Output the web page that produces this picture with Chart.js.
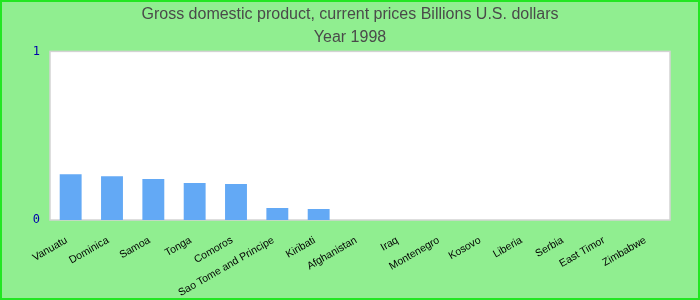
<!DOCTYPE html>
<html>
<head>
<meta charset="utf-8">
<script src="https://cdn.jsdelivr.net/npm/chart.js@4"></script>
<style>
  html, body { margin: 0; padding: 0; background: #90ee90; }
  #wrap { width: 696px; height: 296px; border: 2px solid #22e622; background: #90ee90; }
</style>
</head>
<body>
<div id="wrap"><canvas id="chart" width="696" height="296"></canvas></div>
<script>
// datos del gráfico
const titleLines = ['Gross domestic product, current prices Billions U.S. dollars', 'Year 1998'];
const countries = ['Vanuatu', 'Dominica', 'Samoa', 'Tonga', 'Comoros', 'Sao Tome and Principe', 'Kiribati',
  'Afghanistan', 'Iraq', 'Montenegro', 'Kosovo', 'Liberia', 'Serbia', 'East Timor', 'Zimbabwe'];
const gdpValues = [0.272, 0.260, 0.243, 0.219, 0.213, 0.071, 0.065, 0, 0, 0, 0, 0, 0, 0, 0];
const yTicks = [0, 1];

// fondo blanco del área de trazado
const plotBg = {
  id: 'plotBg',
  beforeDraw(chart) {
    const { ctx, chartArea: a } = chart;
    ctx.save();
    ctx.fillStyle = '#ffffff';
    ctx.fillRect(a.left, a.top, a.right - a.left, a.bottom - a.top);
    ctx.strokeStyle = '#d3d3d3';
    ctx.lineWidth = 1.5;
    ctx.strokeRect(a.left, a.top, a.right - a.left, a.bottom - a.top);
    ctx.restore();
  }
};

new Chart(document.getElementById('chart'), {
  type: 'bar',
  data: {
    labels: countries,
    datasets: [{
      data: gdpValues,
      backgroundColor: '#63a9f5',
      barPercentage: 0.53,
      categoryPercentage: 1
    }]
  },
  options: {
    responsive: false,
    animation: false,
    layout: { padding: 0 },
    plugins: {
      legend: { display: false },
      tooltip: { enabled: false },
      title: {
        display: true,
        text: titleLines,
        color: '#4a4a4a',
        font: { family: 'Liberation Sans', size: 16, weight: 'normal', lineHeight: 1.45 },
        padding: { top: 1, bottom: 2 }
      }
    },
    scales: {
      x: {
        grid: { display: false },
        border: { display: false },
        ticks: {
          autoSkip: false,
          minRotation: 30,
          maxRotation: 30,
          color: '#000000',
          padding: 6,
          labelOffset: -4,
          font: { family: 'Liberation Sans', size: 10.5 }
        },
        afterFit(scale) { scale.height = 78; }
      },
      y: {
        min: 0,
        max: 1,
        afterBuildTicks(scale) { scale.ticks = yTicks.map(v => ({ value: v })); },
        grid: { display: false, drawTicks: false },
        border: { display: false },
        ticks: {
          color: '#0000aa',
          padding: 10,
          font: { family: 'DejaVu Sans Mono', size: 12 }
        },
        afterFit(scale) { scale.width = 48; }
      },
      // eje vacío a la derecha solo para dejar margen
      yRight: {
        position: 'right',
        display: true,
        grid: { display: false, drawTicks: false },
        border: { display: false },
        ticks: { display: false },
        afterFit(scale) { scale.width = 28; }
      }
    }
  },
  plugins: [plotBg]
});
</script>
</body>
</html>
